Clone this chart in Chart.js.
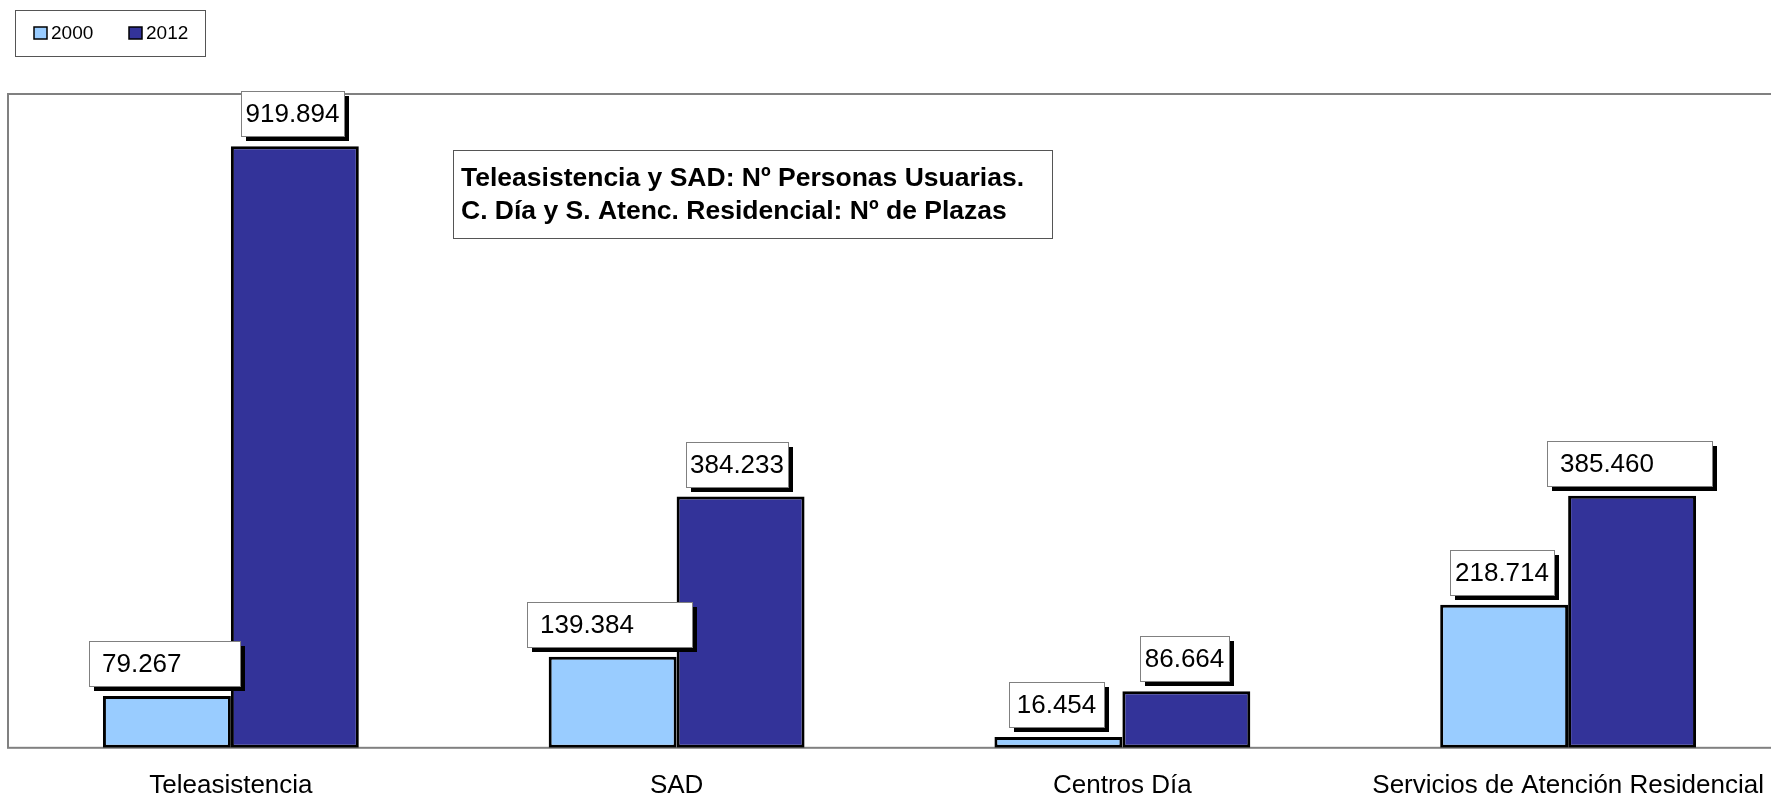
<!DOCTYPE html>
<html>
<head>
<meta charset="utf-8">
<script src="https://cdn.jsdelivr.net/npm/chart.js@4.4.1/dist/chart.umd.min.js"></script>
<style>
	html, body { margin: 0; padding: 0; overflow: hidden; background: #fff; }
	#wrap { width: 1800px; height: 830px; }
</style>
</head>
<body>
<div id="wrap"><canvas id="myChart" width="1800" height="830"></canvas></div>
<script>
	// datos del gráfico
	var categories = ['Teleasistencia', 'SAD', 'Centros Día', 'Servicios de Atención Residencial'];
	var seriesNames = ['2000', '2012'];
	var values2000 = [79267, 139384, 16454, 218714];
	var values2012 = [919894, 384233, 86664, 385460];
	var noteLines = ['Teleasistencia y SAD: Nº Personas Usuarias.', 'C. Día y S. Atenc. Residencial: Nº de Plazas'];

	// cajas de etiqueta: [desplazamiento desde el borde izq. de la barra, ancho]
	var labelBoxes = [
		[[-14, 151], [-22, 165], [15, 95], [10, 104]],
		[[10, 103], [9, 102], [18, 89], [-21, 165]]
	];

	var FONT = '"Liberation Sans", Arial, sans-serif';

	function fmt(v) {
		return String(v).replace(/\B(?=(\d{3})+(?!\d))/g, '.');
	}

	var extras = {
		id: 'extras',
		beforeDatasetsDraw: function(chart) {
			var c = chart.ctx, a = chart.chartArea;
			c.save();
			c.strokeStyle = '#808080';
			c.lineWidth = 2;
			c.strokeRect(a.left, a.top, a.right - a.left, a.bottom - a.top);
			c.restore();
		},
		afterDatasetsDraw: function(chart) {
			var c = chart.ctx;
			c.save();
			c.font = '26px ' + FONT;
			c.textBaseline = 'middle';
			chart.data.datasets.forEach(function(ds, di) {
				chart.getDatasetMeta(di).data.forEach(function(bar, i) {
					var b = labelBoxes[di][i];
					var h = 45, w = b[1];
					var x = Math.round(bar.x - bar.width / 2 + b[0]);
					var y = Math.round(bar.y - 10 - h);
					c.fillStyle = '#000';
					c.fillRect(x + 5, y + 5, w, h);
					c.fillStyle = '#fff';
					c.fillRect(x, y, w, h);
					c.strokeStyle = '#808080';
					c.lineWidth = 1;
					c.strokeRect(x + 0.5, y + 0.5, w, h);
					var t = fmt(ds.data[i]);
					var pad = Math.min(13, (w - c.measureText(t).width) / 2);
					c.fillStyle = '#000';
					c.fillText(t, x + pad, y + h / 2 + 1);
				});
			});
			c.restore();
		},
		afterDraw: function(chart) {
			var c = chart.ctx;
			c.save();
			// nota
			c.fillStyle = '#fff';
			c.fillRect(453, 150, 599, 88);
			c.strokeStyle = '#555';
			c.lineWidth = 1;
			c.strokeRect(453.5, 150.5, 599, 88);
			c.fillStyle = '#000';
			c.font = 'bold 26.5px ' + FONT;
			c.textBaseline = 'middle';
			c.fillText(noteLines[0], 461, 179);
			c.fillText(noteLines[1], 461, 212);

			// leyenda
			c.strokeStyle = '#555';
			c.strokeRect(15.5, 10.5, 190, 46);
			c.font = '19px ' + FONT;
			var xs = [34, 129];
			chart.data.datasets.forEach(function(ds, di) {
				c.fillStyle = ds.backgroundColor;
				c.fillRect(xs[di], 27, 13, 12);
				c.strokeStyle = '#000';
				c.lineWidth = 1.5;
				c.strokeRect(xs[di], 27, 13, 12);
				c.fillStyle = '#000';
				c.fillText(ds.label, xs[di] + 17, 34);
			});
			c.restore();
		}
	};

	var data = {
		labels: categories,
		datasets: [{
			label: seriesNames[0],
			data: values2000,
			backgroundColor: '#99CCFF',
			borderColor: '#000',
			borderWidth: 3,
			borderSkipped: false
		}, {
			label: seriesNames[1],
			data: values2012,
			backgroundColor: '#333399',
			borderColor: '#000',
			borderWidth: 3,
			borderSkipped: false
		}]
	};

	var options = {
		responsive: false,
		animation: false,
		devicePixelRatio: 1,
		layout: { padding: { left: 8, top: 94, right: 9, bottom: 7 } },
		datasets: { bar: { categoryPercentage: 0.574, barPercentage: 1 } },
		plugins: { legend: { display: false }, tooltip: { enabled: false } },
		scales: {
			x: {
				grid: { display: false, drawTicks: false },
				border: { display: false },
				ticks: { color: '#000', font: { family: FONT, size: 26 }, padding: 22, maxRotation: 0, autoSkip: false }
			},
			y: { display: false, min: 0, max: 1000000 }
		}
	};

	var ctx = document.getElementById('myChart').getContext('2d');
	var myChart = new Chart(ctx, {
		type: 'bar',
		data: data,
		options: options,
		plugins: [extras]
	});
</script>
</body>
</html>
